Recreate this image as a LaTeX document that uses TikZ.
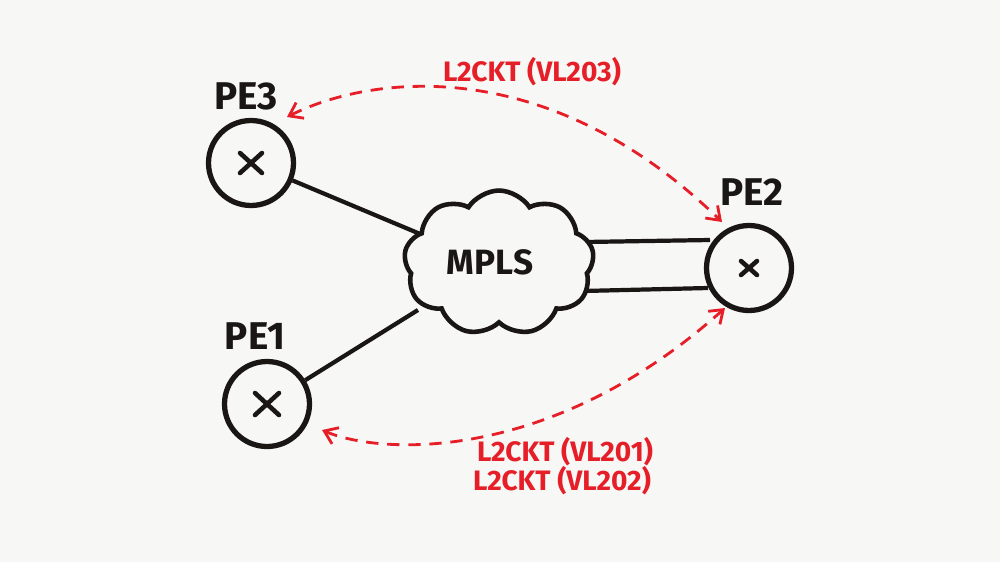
\documentclass[tikz,border=0pt]{standalone}
\usepackage{fontspec}
\setmainfont{Fira Sans}
\usetikzlibrary{shapes.symbols,arrows.meta,calc}
\definecolor{bg}{RGB}{247,247,246}
\definecolor{ink}{RGB}{25,22,20}
\definecolor{redink}{RGB}{230,30,40}
\begin{document}
\begin{tikzpicture}[x=0.02cm,y=-0.02cm,
  pe/.style={circle,draw=ink,line width=3pt,minimum size=1.7cm,inner sep=0pt},
  pelabel/.style={text=ink,font=\fontsize{22}{24}\selectfont\bfseries},
  link/.style={draw=ink,line width=2.4pt},
  cross/.style={draw=ink,line width=2.6pt,line cap=round},
  vc/.style={draw=redink,line width=1.6pt,dash pattern=on 7pt off 5pt,{Straight Barb[length=7pt,width=10pt]}-{Straight Barb[length=7pt,width=10pt]}},
  vclabel/.style={text=redink,font=\fontsize{16}{18}\selectfont\bfseries},
  cloudstyle/.style={cloud,cloud puffs=9,cloud puff arc=115,aspect=1.3,draw=ink,line width=2.6pt,minimum width=3.8cm,minimum height=2.9cm,fill=bg}]
\fill[bg] (0,0) rectangle (1000,562);
\useasboundingbox (0,0) rectangle (1000,562);
% nodes
\node[pe] (pe3) at (251,163) {};
\node[pe] (pe1) at (267,404) {};
\node[pe] (pe2) at (749,268) {};
\node[pelabel] (l3) at (246,96) {PE3};
\node[pelabel] (l1) at (255,336) {PE1};
\node[pelabel] (l2) at (752,192) {PE2};
% links
\coordinate (c3) at (425,236);
\coordinate (c1) at (418,310);
\coordinate (c2a) at (585,242);
\coordinate (c2b) at (583,291);
\draw[link] (pe3) -- (c3);
\draw[link] (pe1) -- (c1);
\coordinate (p2a) at (710,240);
\coordinate (p2b) at (708,288);
\draw[link] (c2a) -- (p2a);
\draw[link] (c2b) -- (p2b);
\node[cloudstyle] (mpls) at (499,263) {};
\node[text=ink,font=\fontsize{20}{22}\selectfont\bfseries] (mt) at (490,262) {MPLS};
% crosses
\draw[cross] ($(pe3)+(-11,-10)$) -- ($(pe3)+(11,10)$);
\draw[cross] ($(pe3)+(-11,10)$) -- ($(pe3)+(11,-10)$);
\draw[cross] ($(pe1)+(-12,-11)$) -- ($(pe1)+(12,11)$);
\draw[cross] ($(pe1)+(-12,11)$) -- ($(pe1)+(12,-11)$);
\draw[cross] ($(pe2)+(-8,-7)$) -- ($(pe2)+(8,7)$);
\draw[cross] ($(pe2)+(-8,7)$) -- ($(pe2)+(8,-7)$);
% virtual circuits
\coordinate (a3) at (287,117);
\coordinate (a2t) at (722,222);
\coordinate (a1) at (322,430);
\coordinate (a2b) at (725,308);
\draw[vc] (a3) .. controls (370,75) and (547,52) .. (a2t);
\draw[vc] (a1) .. controls (380,455) and (551,464) .. (a2b);
\node[vclabel] (t203) at (532,72) {L2CKT (VL203)};
\node[vclabel] (t201) at (565,452) {L2CKT (VL201)};
\node[vclabel] (t202) at (562,481) {L2CKT (VL202)};
\end{tikzpicture}
\end{document}
